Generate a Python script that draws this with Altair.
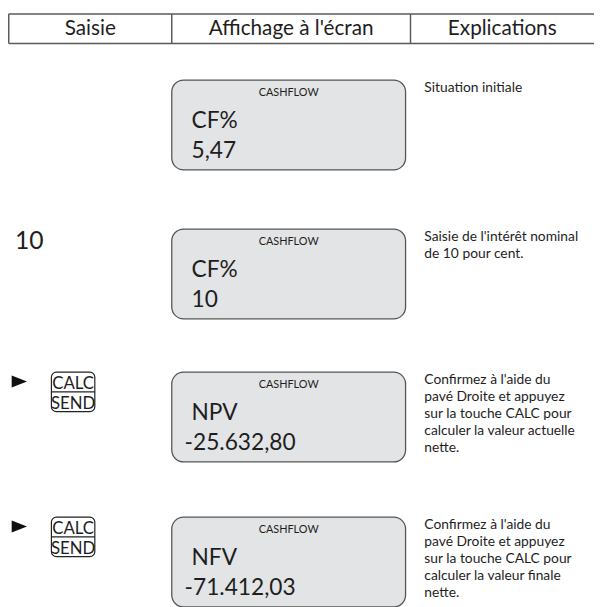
import altair as alt
import pandas as pd

# ---------------- content ----------------
header_labels = ["Saisie", "Affichage à l'écran", "Explications"]
input_texts = ["", "10", "", ""]
key_upper = ["", "", "CALC", "CALC"]
key_lower = ["", "", "SEND", "SEND"]
screen_titles = ["CASHFLOW", "CASHFLOW", "CASHFLOW", "CASHFLOW"]
screen_names = ["CF%", "CF%", "NPV", "NFV"]
screen_values = ["5,47", "10", "-25.632,80", "-71.412,03"]
explanations = [
    ["Situation initiale"],
    ["Saisie de l'intérêt nominal", "de 10 pour cent."],
    ["Confirmez à l'aide du", "pavé Droite et appuyez", "sur la touche CALC pour",
     "calculer la valeur actuelle", "nette."],
    ["Confirmez à l'aide du", "pavé Droite et appuyez", "sur la touche CALC pour",
     "calculer la valeur finale", "nette."],
]

# ---------------- layout (page pixels) ----------------
ROW_TOPS = [77, 228, 373, 520]
HEAD_TOP, HEAD_BOT = 10, 40
COL_EDGES = [8.75, 174, 416, 602]
BOX_X0, BOX_X1, BOX_H = 174, 411, 91
KEY_X0, KEY_X1, KEY_H = 52, 96, 40
FONT = "Lato"
INK = "#1e1e1e"
LINE = "#5a5a5a"

xs = alt.Scale(domain=[8, 602], nice=False, zero=False)
ys = alt.Scale(domain=[8, 607], nice=False, zero=False, reverse=True)


def X(f):
    return alt.X(f, type="quantitative", scale=xs, axis=None)


def Y(f):
    return alt.Y(f, type="quantitative", scale=ys, axis=None)


# header lines
hlines = pd.DataFrame({"x": [COL_EDGES[0]] * 2, "x2": [COL_EDGES[-1]] * 2,
                       "y": [HEAD_TOP, HEAD_BOT], "y2": [HEAD_TOP, HEAD_BOT]})
vlines = pd.DataFrame({"x": COL_EDGES[:3], "x2": COL_EDGES[:3],
                       "y": [HEAD_TOP] * 3, "y2": [HEAD_BOT] * 3})
lines = pd.concat([hlines, vlines])
header_rules = alt.Chart(lines).mark_rule(color=LINE, strokeWidth=1.5).encode(
    x=X("x"), x2="x2", y=Y("y"), y2="y2")

head_df = pd.DataFrame({
    "label": header_labels,
    "x": [(COL_EDGES[i] + COL_EDGES[i + 1]) / 2 for i in range(3)],
    "y": [31] * 3,
})
header_text = alt.Chart(head_df).mark_text(
    font=FONT, fontSize=21, align="center", baseline="alphabetic", color=INK
).encode(x=X("x"), y=Y("y"), text="label:N")

# screen boxes
box_df = pd.DataFrame({
    "x": [BOX_X0] * 4, "x2": [BOX_X1] * 4,
    "y": ROW_TOPS, "y2": [t + BOX_H for t in ROW_TOPS],
})
boxes = alt.Chart(box_df).mark_rect(
    fill="#e3e4e6", stroke="#555555", strokeWidth=1.3, cornerRadius=12
).encode(x=X("x"), x2="x2", y=Y("y"), y2="y2")

title_df = pd.DataFrame({"t": screen_titles, "x": [(BOX_X0 + BOX_X1) / 2] * 4,
                         "y": [t + 16 for t in ROW_TOPS]})
titles = alt.Chart(title_df).mark_text(
    font=FONT, fontSize=11, align="center", baseline="alphabetic", color=INK
).encode(x=X("x"), y=Y("y"), text="t:N")

name_df = pd.DataFrame({"t": screen_names, "x": [194] * 4,
                        "y": [t + 49 for t in ROW_TOPS]})
names = alt.Chart(name_df).mark_text(
    font=FONT, fontSize=23, align="left", baseline="alphabetic", color=INK
).encode(x=X("x"), y=Y("y"), text="t:N")

val_df = pd.DataFrame({"t": screen_values,
                       "x": [187 if v.startswith("-") else 194 for v in screen_values],
                       "y": [t + 79 for t in ROW_TOPS]})
values = alt.Chart(val_df).mark_text(
    font=FONT, fontSize=23, align="left", baseline="alphabetic", color=INK
).encode(x=X("x"), y=Y("y"), text="t:N")

# input column
inp_df = pd.DataFrame({"t": input_texts, "x": [15] * 4,
                       "y": [t + 20 for t in ROW_TOPS]})
inp_df = inp_df[inp_df.t != ""]
inputs = alt.Chart(inp_df).mark_text(
    font=FONT, fontSize=25, align="left", baseline="alphabetic", color=INK
).encode(x=X("x"), y=Y("y"), text="t:N")

key_rows = [i for i, k in enumerate(key_upper) if k]
tri_df = pd.DataFrame({"x": [19.5] * len(key_rows),
                       "y": [ROW_TOPS[i] + 9.5 for i in key_rows]})
triangles = alt.Chart(tri_df).mark_point(
    shape="M-1,-0.8L1,0L-1,0.8Z", filled=True, size=240, color="#111111", opacity=1
).encode(x=X("x"), y=Y("y"))

key_df = pd.DataFrame({"x": [KEY_X0] * len(key_rows), "x2": [KEY_X1] * len(key_rows),
                       "y": [ROW_TOPS[i] for i in key_rows],
                       "y2": [ROW_TOPS[i] + KEY_H for i in key_rows]})
keys = alt.Chart(key_df).mark_rect(
    fill="white", stroke="#222222", strokeWidth=1.2, cornerRadius=5
).encode(x=X("x"), x2="x2", y=Y("y"), y2="y2")

kmid_df = pd.DataFrame({"x": [KEY_X0] * len(key_rows), "x2": [KEY_X1] * len(key_rows),
                        "y": [ROW_TOPS[i] + KEY_H / 2 for i in key_rows]})
key_mid = alt.Chart(kmid_df).mark_rule(color="#222222", strokeWidth=1.2).encode(
    x=X("x"), x2="x2", y=Y("y"))

klab_df = pd.DataFrame({
    "t": [key_upper[i] for i in key_rows] + [key_lower[i] for i in key_rows],
    "x": [(KEY_X0 + KEY_X1) / 2] * (2 * len(key_rows)),
    "y": [ROW_TOPS[i] + 17.5 for i in key_rows] + [ROW_TOPS[i] + 37 for i in key_rows],
})
key_labels = alt.Chart(klab_df).mark_text(
    font=FONT, fontSize=17, align="center", baseline="alphabetic", color=INK
).encode(x=X("x"), y=Y("y"), text="t:N")

# explanations
exp_df = pd.DataFrame({"t": ["\n".join(e) for e in explanations], "x": [430] * 4,
                       "y": [t + 12 for t in ROW_TOPS]})
exp_text = alt.Chart(exp_df).mark_text(
    font=FONT, fontSize=14, align="left", baseline="alphabetic", color=INK,
    lineBreak="\n", lineHeight=17.3
).encode(x=X("x"), y=Y("y"), text="t:N")

chart = alt.layer(
    header_rules, header_text, boxes, titles, names, values, inputs,
    triangles, keys, key_mid, key_labels, exp_text
).properties(
    width=594, height=599, padding=0, autosize=alt.AutoSizeParams(type="none")
).configure_view(strokeWidth=0)

chart.save("out.html", embed_options={"renderer": "svg", "actions": False})
